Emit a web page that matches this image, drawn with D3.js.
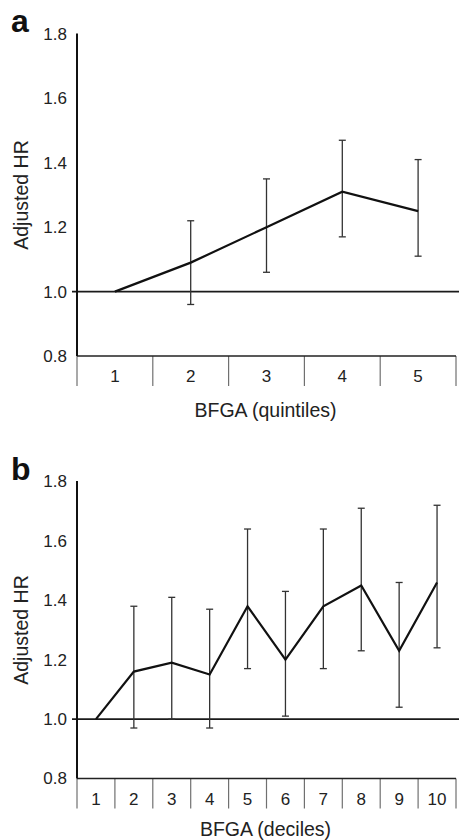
<!DOCTYPE html>
<html>
<head>
<meta charset="utf-8">
<script src="https://cdn.jsdelivr.net/npm/d3@7"></script>
<style>
  body { margin: 0; background: #fff; }
  svg { display: block; font-family: "Liberation Sans", Arial, sans-serif; }
</style>
</head>
<body>
<svg width="459" height="840"></svg>
<script>
// Panel a: quintiles
const quintiles = ["1", "2", "3", "4", "5"];
const quintile_hr = [1.00, 1.09, 1.20, 1.31, 1.25];
const quintile_lo = [null, 0.96, 1.06, 1.17, 1.11];
const quintile_hi = [null, 1.22, 1.35, 1.47, 1.41];

// Panel b: deciles
const deciles = ["1", "2", "3", "4", "5", "6", "7", "8", "9", "10"];
const decile_hr = [1.00, 1.16, 1.19, 1.15, 1.38, 1.20, 1.38, 1.45, 1.23, 1.46];
const decile_lo = [null, 0.97, 1.00, 0.97, 1.17, 1.01, 1.17, 1.23, 1.04, 1.24];
const decile_hi = [null, 1.38, 1.41, 1.37, 1.64, 1.43, 1.64, 1.71, 1.46, 1.72];

const y_ticks = [0.8, 1.0, 1.2, 1.4, 1.6, 1.8];
const y_title = "Adjusted HR";

const svg = d3.select("svg");

draw_panel({
  letter: "a", top: 34, bottom: 356, title_dy: 61,
  cats: quintiles, hr: quintile_hr, lo: quintile_lo, hi: quintile_hi,
  x_title: "BFGA (quintiles)"
});
draw_panel({
  letter: "b", top: 481.5, bottom: 778.5, title_dy: 57,
  cats: deciles, hr: decile_hr, lo: decile_lo, hi: decile_hi,
  x_title: "BFGA (deciles)"
});

/**
 * Draw one panel of the figure
 * @param {object} p - panel settings and data
 */
function draw_panel(p){
  const left = 77, right = 456;
  const g = svg.append("g");

  const x = d3.scaleBand().domain(p.cats).range([left, right]);
  const y = d3.scaleLinear().domain([0.8, 1.8]).range([p.bottom, p.top]);

  const rows = p.cats.map(function(c, i){
    return {cat: c, hr: p.hr[i], lo: p.lo[i], hi: p.hi[i]};
  });

  // category separators below the baseline
  const edges = p.cats.map(function(c){ return x(c); }).concat([right]);
  g.selectAll("line.sep")
   .data(edges)
   .enter()
   .append("line")
   .attr("x1", function(d){ return d; })
   .attr("x2", function(d){ return d; })
   .attr("y1", p.bottom)
   .attr("y2", p.bottom + 30)
   .attr("stroke", "#707070")
   .attr("stroke-width", 1.2);

  // category labels
  g.selectAll("text.cat")
   .data(p.cats)
   .enter()
   .append("text")
   .attr("x", function(d){ return x(d) + x.bandwidth() / 2; })
   .attr("y", p.bottom + 26)
   .attr("text-anchor", "middle")
   .attr("font-size", 17)
   .attr("fill", "#222")
   .text(function(d){ return d; });

  // y tick labels
  g.selectAll("text.ytick")
   .data(y_ticks)
   .enter()
   .append("text")
   .attr("x", 67)
   .attr("y", function(d){ return y(d); })
   .attr("dy", "0.35em")
   .attr("text-anchor", "end")
   .attr("font-size", 17)
   .attr("fill", "#222")
   .text(function(d){ return d.toFixed(1); });

  // baseline at 0.8
  g.append("line")
   .attr("x1", left).attr("x2", right)
   .attr("y1", y(0.8)).attr("y2", y(0.8))
   .attr("stroke", "#222").attr("stroke-width", 1.6);

  // reference line at 1.0
  g.append("line")
   .attr("x1", left - 5).attr("x2", 459)
   .attr("y1", y(1.0)).attr("y2", y(1.0))
   .attr("stroke", "#1a1a1a").attr("stroke-width", 1.8);

  // y axis
  g.append("line")
   .attr("x1", left).attr("x2", left)
   .attr("y1", p.top - 0.5).attr("y2", p.bottom)
   .attr("stroke", "#111").attr("stroke-width", 2);

  // error bars
  const bars = rows.filter(function(d){ return d.lo !== null; });
  const cx = function(d){ return x(d.cat) + x.bandwidth() / 2; };
  g.selectAll("line.err")
   .data(bars)
   .enter()
   .append("line")
   .attr("x1", cx).attr("x2", cx)
   .attr("y1", function(d){ return y(d.lo); })
   .attr("y2", function(d){ return y(d.hi); })
   .attr("stroke", "#333").attr("stroke-width", 1.3);
  ["lo", "hi"].forEach(function(k){
    g.selectAll("line.cap-" + k)
     .data(bars)
     .enter()
     .append("line")
     .attr("x1", function(d){ return cx(d) - 3.5; })
     .attr("x2", function(d){ return cx(d) + 3.5; })
     .attr("y1", function(d){ return y(d[k]); })
     .attr("y2", function(d){ return y(d[k]); })
     .attr("stroke", "#333").attr("stroke-width", 1.3);
  });

  // HR line
  const line = d3.line()
    .x(cx)
    .y(function(d){ return y(d.hr); });
  g.append("path")
   .datum(rows)
   .attr("d", line)
   .attr("fill", "none")
   .attr("stroke", "#111")
   .attr("stroke-width", 2.2)
   .attr("stroke-linejoin", "miter");

  // panel letter
  g.append("text")
   .attr("x", 11)
   .attr("y", p.top - 2)
   .attr("font-size", 32)
   .attr("font-weight", "bold")
   .attr("fill", "#111")
   .text(p.letter);

  // y title
  const ymid = (p.top + p.bottom) / 2;
  g.append("text")
   .attr("transform", `translate(28,${ymid}) rotate(-90)`)
   .attr("text-anchor", "middle")
   .attr("font-size", 19.5)
   .attr("fill", "#222")
   .text(y_title);

  // x title
  g.append("text")
   .attr("x", (left + right) / 2 - 1)
   .attr("y", p.bottom + p.title_dy)
   .attr("text-anchor", "middle")
   .attr("font-size", 19.5)
   .attr("fill", "#222")
   .text(p.x_title);
}
</script>
</body>
</html>
